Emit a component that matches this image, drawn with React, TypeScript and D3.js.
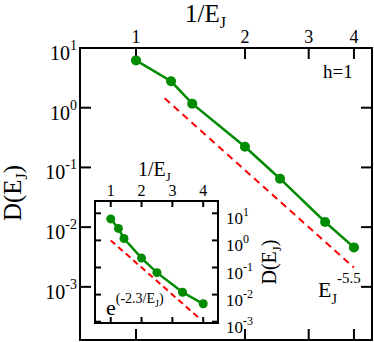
import React from "react";
import * as d3 from "d3";

// data (x = 1/E_J)
const invEJ = [1, 1.25, 1.43, 2, 2.5, 3.33, 4];
const dValues = [6.2, 2.77, 1.17, 0.222, 0.0647, 0.0122, 0.00458];

// power-law guide E_J^-5.5 (main) and exp(-2.3/E_J) guide (inset)
const powX = [1.2, 4];
const powY = [1.44, 0.0021];
const expX = [1, 3.9];
const expY = [1.0, 0.00126];

const mainXTicks = [1, 2, 3, 4];
const mainYTicks = [1, 0, -1, -2, -3];
const insetXTicks = [1, 2, 3, 4];
const insetYTicks = [1, 0, -1, -2, -3];

const GREEN = "#008b00";
const RED = "#ff0000";
const FONT = '"Liberation Serif", "Times New Roman", "DejaVu Serif", serif';

export default function App() {
  // main panel
  const x = d3.scaleLog().domain([0.7003, 4.487]).range([80, 372]);
  const y = d3.scaleLog().domain([Math.pow(10, -3.89), 10]).range([340, 48]);
  // inset
  const ix = d3.scaleLinear().domain([0.49, 4.48]).range([95, 218]);
  const iy = d3.scaleLog().domain([Math.pow(10, -3.048), Math.pow(10, 1.454)]).range([323, 201]);

  const line = d3.line<number>().x((_, i) => x(invEJ[i])).y((d) => y(d));
  const iline = d3.line<number>().x((_, i) => ix(invEJ[i])).y((d) => iy(d));
  const powLine = d3.line<number>().x((_, i) => x(powX[i])).y((d) => y(d));
  const expLine = d3.line<number>().x((_, i) => ix(expX[i])).y((d) => iy(d));

  const tk = 11;
  const itk = 6;

  return (
    <svg width={374} height={342} style={{ position: "absolute", left: 0, top: 0, fontFamily: FONT }}>
      <rect width={374} height={342} fill="white" />

      {/* main frame and ticks */}
      <rect x={80} y={48} width={292} height={292} fill="none" stroke="black" strokeWidth={2} />
      {mainXTicks.map((t) => (
        <g key={"mx" + t}>
          <line x1={x(t)} x2={x(t)} y1={48} y2={48 + tk} stroke="black" strokeWidth={2} />
          <line x1={x(t)} x2={x(t)} y1={340} y2={340 - tk} stroke="black" strokeWidth={2} />
          <text x={x(t)} y={43} fontSize={18} textAnchor="middle">{t}</text>
        </g>
      ))}
      {mainYTicks.map((p) => {
        const yy = y(Math.pow(10, p));
        return (
          <g key={"my" + p}>
            <line x1={80} x2={80 + tk} y1={yy} y2={yy} stroke="black" strokeWidth={2} />
            <line x1={372} x2={372 - tk} y1={yy} y2={yy} stroke="black" strokeWidth={2} />
            <text x={77} y={yy + 12} fontSize={20} textAnchor="end">
              10<tspan fontSize={14} dy={-10}>{p}</tspan>
            </text>
          </g>
        );
      })}

      {/* axis titles */}
      <text x={185} y={22} fontSize={25}>
        1/E<tspan fontSize={16} dy={6}>J</tspan>
      </text>
      <text transform="translate(21,193) rotate(-90)" fontSize={25} textAnchor="middle">
        D(E<tspan fontSize={16} dy={6}>J</tspan><tspan dy={-6}>)</tspan>
      </text>
      <text x={323} y={78} fontSize={19}>h=1</text>
      <text x={318} y={297} fontSize={22}>
        E<tspan fontSize={14} dy={7}>J</tspan><tspan fontSize={15} dy={-21}>-5.5</tspan>
      </text>

      {/* main curves */}
      <path d={powLine(powY) || ""} fill="none" stroke={RED} strokeWidth={2} strokeDasharray="7,5" />
      <path d={line(dValues) || ""} fill="none" stroke={GREEN} strokeWidth={2.5} />
      {dValues.map((d, i) => (
        <circle key={"m" + i} cx={x(invEJ[i])} cy={y(d)} r={5} fill={GREEN} />
      ))}

      {/* inset */}
      <rect x={95} y={201} width={123} height={122} fill="white" stroke="black" strokeWidth={2} />
      {insetXTicks.map((t) => (
        <g key={"ix" + t}>
          <line x1={ix(t)} x2={ix(t)} y1={201} y2={201 + itk} stroke="black" strokeWidth={2} />
          <line x1={ix(t)} x2={ix(t)} y1={323} y2={323 - itk} stroke="black" strokeWidth={2} />
          <text x={ix(t)} y={196} fontSize={16} textAnchor="middle">{t}</text>
        </g>
      ))}
      {insetYTicks.map((p) => {
        const yy = iy(Math.pow(10, p));
        return (
          <g key={"iy" + p}>
            <line x1={95} x2={95 + itk} y1={yy} y2={yy} stroke="black" strokeWidth={2} />
            <line x1={218} x2={218 - itk} y1={yy} y2={yy} stroke="black" strokeWidth={2} />
            <text x={226} y={yy + 11} fontSize={17}>
              10<tspan fontSize={12} dy={-8}>{p}</tspan>
            </text>
          </g>
        );
      })}
      <text x={138} y={176} fontSize={20}>
        1/E<tspan fontSize={13} dy={5}>J</tspan>
      </text>
      <text transform="translate(276,262) rotate(-90)" fontSize={20} textAnchor="middle">
        D(E<tspan fontSize={13} dy={5}>J</tspan><tspan dy={-5}>)</tspan>
      </text>
      <text x={106} y={315} fontSize={22}>
        e<tspan fontSize={14} dy={-12}>(-2.3/E</tspan><tspan fontSize={10} dy={4}>J</tspan><tspan fontSize={14} dy={-4}>)</tspan>
      </text>
      <path d={expLine(expY) || ""} fill="none" stroke={RED} strokeWidth={2} strokeDasharray="6,4" />
      <path d={iline(dValues) || ""} fill="none" stroke={GREEN} strokeWidth={2.5} />
      {dValues.map((d, i) => (
        <circle key={"i" + i} cx={ix(invEJ[i])} cy={iy(d)} r={4.5} fill={GREEN} />
      ))}
    </svg>
  );
}
